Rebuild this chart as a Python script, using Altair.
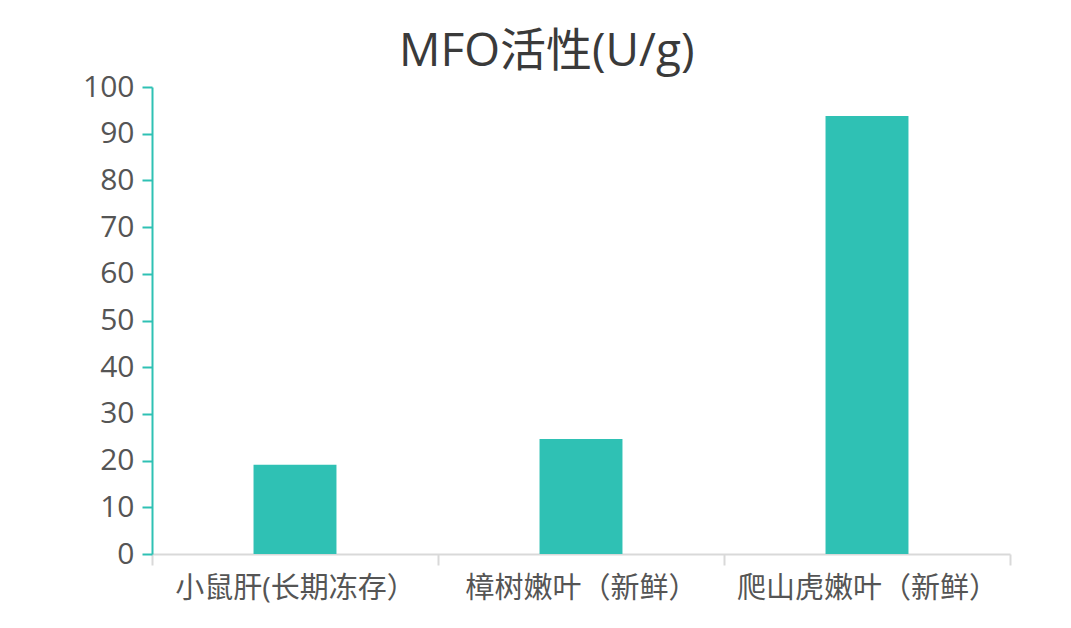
import altair as alt
import pandas as pd

categories = ["小鼠肝(长期冻存）", "樟树嫩叶（新鲜）", "爬山虎嫩叶（新鲜）"]
values = [19.1, 24.6, 93.8]

df = pd.DataFrame({"cat": categories, "val": values})

FONT = "Open Sans, Noto Sans CJK SC"

chart = alt.Chart(df).mark_bar(
    color="#2FC1B4",
    width=alt.RelativeBandSize(0.29),
).encode(
    x=alt.X("cat:N", sort=categories,
            scale=alt.Scale(paddingInner=0, paddingOuter=0),
            axis=alt.Axis(title=None, labelAngle=0, tickBand="extent",
                          domainColor="#d9d9d9", domainWidth=2,
                          tickColor="#d9d9d9", tickWidth=2, tickSize=11,
                          labelFont=FONT, labelFontSize=29, labelColor="#555555",
                          labelPadding=9, labelLimit=0)),
    y=alt.Y("val:Q", scale=alt.Scale(domain=[0, 100], nice=False),
            axis=alt.Axis(title=None, values=list(range(0, 101, 10)), grid=False,
                          domainColor="#2FC1B4", domainWidth=2,
                          tickColor="#2FC1B4", tickWidth=2, tickSize=10,
                          labelFont=FONT, labelFontSize=30, labelColor="#555555",
                          labelPadding=8)),
).properties(
    width=858,
    height=467,
    title=alt.TitleParams("MFO活性(U/g)", font=FONT, fontSize=46, fontWeight="normal",
                          color="#3a3a3a", anchor="middle", frame="bounds", offset=-4),
    autosize=alt.AutoSizeParams(type="none"),
    padding={"left": 144, "top": 79, "right": 53, "bottom": 66},
).configure_view(stroke=None)

chart.save("out.html", embed_options={"renderer": "svg", "actions": False})
